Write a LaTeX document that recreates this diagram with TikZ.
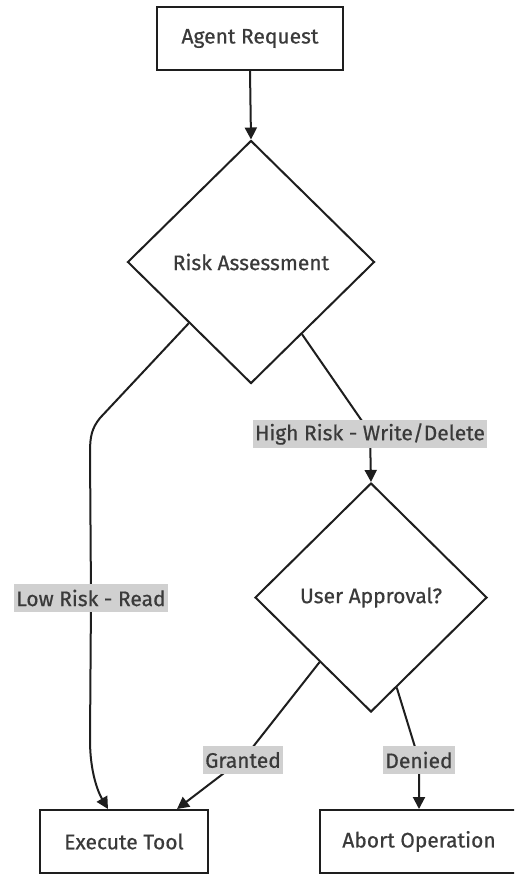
\documentclass[tikz,border=0pt]{standalone}
\usepackage{fontspec}
\setmainfont[FakeBold=0.6]{Fira Sans}
\usetikzlibrary{shapes.geometric,arrows.meta,calc}
\definecolor{txt}{HTML}{3A3A3A}
\definecolor{ln}{HTML}{1E1E1E}
\definecolor{lbl}{HTML}{D0D0D0}
\tikzset{
  fnt/.style={font=\fontsize{21}{24}\selectfont},
  box/.style={draw=ln,line width=2pt,fill=white,text=txt,inner sep=0pt,fnt},
  dia/.style={draw=ln,line width=2pt,fill=white,diamond,text=txt,inner sep=0pt,fnt},
  elabel/.style={fill=lbl,text=txt,inner sep=2pt,minimum height=28pt,fnt},
  edge/.style={draw=ln,line width=2pt,-{Triangle[length=12pt,width=12pt]}}
}
\begin{document}
\begin{tikzpicture}[x=1pt,y=-1pt]
\useasboundingbox (0,0) rectangle (514,875);
\clip (0,0) rectangle (514,875);
\node[box,minimum width=186pt,minimum height=63pt] (ar) at (250,38.5) {Agent Request};
\node[dia,minimum width=247pt,minimum height=243pt] (ra) at (251,262) {Risk Assessment};
\node[dia,minimum width=232pt,minimum height=229pt] (ua) at (371,597.5) {User Approval?};
\node[box,minimum width=168pt,minimum height=63pt] (et) at (124,841.5) {Execute Tool};
\node[box,minimum width=198pt,minimum height=63pt] (ab) at (419,841.5) {Abort Operation};
\coordinate (lowl) at (91,598);
\coordinate (highl) at (370,434);
\coordinate (grl) at (243,760);
\coordinate (dnl) at (419,760);
\draw[edge] (ar.south) -- (ra.north);
\draw[edge] (ra.south west) -- (100,418) .. controls (92,428) and (90,436) .. (90,452) -- (lowl) -- (90,740) .. controls (90,772) and (98,792) .. ($(et.north)+(-16,0)$);
\draw[edge] ($(ra.east)!0.59!(ra.south)$) -- (362,421) -- (highl) -- (ua.north);
\draw[edge] ($(ua.west)!0.56!(ua.south)$) -- (245,757) -- ($(et.north)+(53,0)$);
\draw[edge] ($(ua.east)!0.78!(ua.south)$) -- (415,747) -- (dnl) -- (ab.north);
\node[elabel] at (lowl) {Low Risk - Read};
\node[elabel] at (highl) {High Risk - Write/Delete};
\node[elabel] at (grl) {Granted};
\node[elabel] at (dnl) {Denied};
\end{tikzpicture}
\end{document}
